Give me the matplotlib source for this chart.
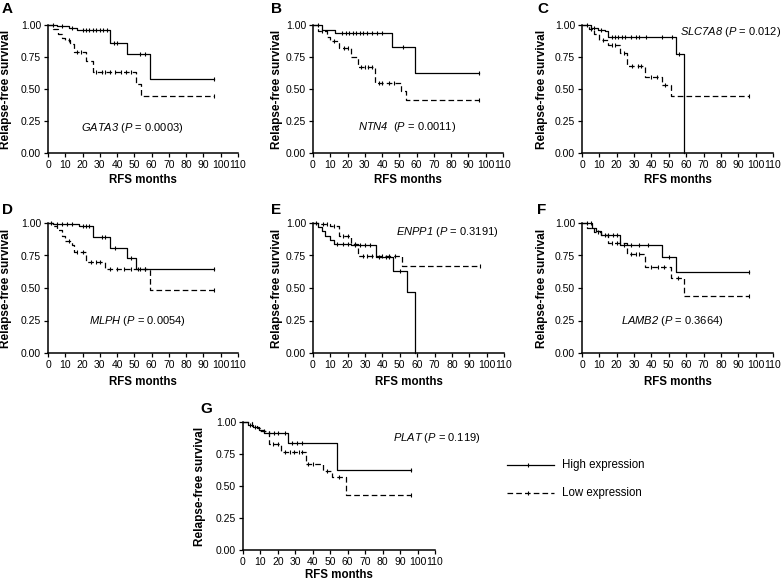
import matplotlib
matplotlib.use('Agg')
import matplotlib.pyplot as plt
import numpy as np

plt.rcParams['font.family'] = ['Liberation Sans', 'DejaVu Sans']
plt.rcParams['mathtext.fontset'] = 'custom'
# upright math font set to italic so gene names (with digits) are fully italic
plt.rcParams['mathtext.rm'] = 'Liberation Sans:italic'
plt.rcParams['mathtext.it'] = 'Liberation Sans:italic'

MONTH_TICKS = list(range(0, 111, 10))
SURV_TICKS = [0.0, 0.25, 0.50, 0.75, 1.00]
LEGEND_LABELS = ["High expression", "Low expression"]

# ---- Panel A: GATA3 ----
A_high_t = [0, 5, 12, 17, 36, 46, 59]
A_high_s = [1.0, 0.99, 0.975, 0.962, 0.857, 0.771, 0.577]
A_high_c = [3, 8, 14, 20, 22, 24, 26, 28, 30, 32, 34, 38, 40, 53, 56, 96]
A_low_t = [0, 3, 6, 8, 10, 13, 15, 22, 26, 51, 54]
A_low_s = [1.0, 0.97, 0.93, 0.90, 0.88, 0.85, 0.79, 0.72, 0.631, 0.54, 0.447]
A_low_c = [12, 17, 19, 28, 31, 33, 36, 39, 42, 45, 48, 96]

# ---- Panel B: NTN4 ----
B_high_t = [0, 5, 13, 46, 59]
B_high_s = [1.0, 0.961, 0.937, 0.829, 0.623]
B_high_c = [3, 17, 19, 21, 23, 25, 27, 29, 31, 34, 37, 40, 52, 96]
B_low_t = [0, 3, 8, 10, 15, 22, 26, 36, 51, 54]
B_low_s = [1.0, 0.953, 0.91, 0.878, 0.818, 0.748, 0.67, 0.55, 0.488, 0.415]
B_low_c = [5, 12, 18, 20, 28, 30, 32, 34, 38, 40, 44, 47, 96]

# ---- Panel C: SLC7A8 ----
C_high_t = [0, 5, 9, 13, 15, 54, 59]
C_high_s = [1.0, 0.98, 0.96, 0.95, 0.906, 0.777, 0.0]
C_high_c = [3, 7, 11, 17, 19, 21, 23, 25, 28, 31, 33, 37, 46, 52, 56]
C_low_t = [0, 4, 7, 10, 15, 22, 26, 36, 46, 51]
C_low_s = [1.0, 0.97, 0.93, 0.88, 0.844, 0.78, 0.683, 0.592, 0.532, 0.449]
C_low_c = [5, 12, 17, 19, 24, 29, 32, 34, 40, 43, 48, 96]

# ---- Panel D: MLPH ----
D_high_t = [0, 3, 18, 26, 36, 46, 51]
D_high_s = [1.0, 0.99, 0.975, 0.894, 0.807, 0.73, 0.65]
D_high_c = [2, 5, 8, 11, 14, 20, 22, 24, 31, 33, 39, 48, 53, 56, 96]
D_low_t = [0, 3, 5, 8, 10, 14, 15, 22, 33, 59]
D_low_s = [1.0, 0.98, 0.95, 0.90, 0.86, 0.83, 0.776, 0.703, 0.644, 0.485]
D_low_c = [12, 17, 20, 25, 28, 30, 36, 40, 44, 48, 52, 56, 96]

# ---- Panel E: ENPP1 ----
E_high_t = [0, 3, 5, 7, 10, 12, 22, 36, 46, 54, 59]
E_high_s = [1.0, 0.97, 0.94, 0.90, 0.87, 0.84, 0.83, 0.735, 0.63, 0.47, 0.0]
E_high_c = [14, 17, 20, 24, 27, 30, 33, 38, 42, 44, 50]
E_low_t = [0, 4, 10, 15, 22, 26, 51]
E_low_s = [1.0, 0.99, 0.975, 0.90, 0.84, 0.745, 0.67]
E_low_c = [2, 6, 8, 12, 17, 20, 24, 29, 31, 34, 40, 44, 47, 96]

# ---- Panel F: LAMB2 ----
F_high_t = [0, 6, 8, 11, 22, 46, 54]
F_high_s = [1.0, 0.96, 0.94, 0.905, 0.83, 0.737, 0.62]
F_high_c = [3, 5, 13, 15, 18, 20, 24, 28, 33, 38, 50, 96]
F_low_t = [0, 3, 7, 11, 15, 26, 36, 51, 59]
F_low_s = [1.0, 0.96, 0.93, 0.905, 0.85, 0.763, 0.66, 0.575, 0.435]
F_low_c = [9, 17, 20, 22, 28, 31, 33, 40, 44, 47, 55, 96]

# ---- Panel G: PLAT ----
G_high_t = [0, 3, 6, 9, 12, 26, 54]
G_high_s = [1.0, 0.98, 0.96, 0.94, 0.917, 0.836, 0.628]
G_high_c = [4, 7, 15, 18, 20, 24, 28, 31, 34, 96]
G_low_t = [0, 5, 8, 10, 15, 22, 36, 46, 51, 59]
G_low_s = [1.0, 0.97, 0.95, 0.93, 0.83, 0.766, 0.673, 0.618, 0.571, 0.428]
G_low_c = [12, 17, 20, 24, 27, 29, 32, 34, 37, 40, 48, 55, 96]

GENES = ["GATA3", "NTN4", "SLC7A8", "MLPH", "ENPP1", "LAMB2", "PLAT"]
P_VALUES = ["0.0003", "0.0011", "0.012", "0.0054", "0.3191", "0.3664", "0.119"]
LETTERS = ["A", "B", "C", "D", "E", "F", "G"]

panels = [
    (A_high_t, A_high_s, A_high_c, A_low_t, A_low_s, A_low_c),
    (B_high_t, B_high_s, B_high_c, B_low_t, B_low_s, B_low_c),
    (C_high_t, C_high_s, C_high_c, C_low_t, C_low_s, C_low_c),
    (D_high_t, D_high_s, D_high_c, D_low_t, D_low_s, D_low_c),
    (E_high_t, E_high_s, E_high_c, E_low_t, E_low_s, E_low_c),
    (F_high_t, F_high_s, F_high_c, F_low_t, F_low_s, F_low_c),
    (G_high_t, G_high_s, G_high_c, G_low_t, G_low_s, G_low_c),
]

W, H = 783, 580
fig = plt.figure(figsize=(W / 100, H / 100), dpi=100)

# axes boxes in pixels: left, top, right, bottom
boxes = [
    (48, 25, 238, 153), (313, 25, 503, 153), (582, 25, 773, 153),
    (48, 223, 238, 353), (313, 223, 504, 353), (582, 223, 773, 353),
    (243, 422, 435, 550),
]
ylabel_x = [-0.19, -0.158, -0.178, -0.19, -0.158, -0.178, -0.193]
xlabel_pad = [3, 3, 3, 4.5, 4.5, 4.5, 1.2]
letter_pos = [(2, 2), (271, 2), (537, 2), (2, 203), (271, 203), (537, 203), (200, 402)]
# annotation: x (data), y (data), ha
annot = [(19.3, 0.195, 'left'), (26, 0.2, 'left'), (115, 0.948, 'right'),
         (23.6, 0.25, 'left'), (48, 0.93, 'left'), (22.6, 0.247, 'left'),
         (85.7, 0.875, 'left')]
annot_sep = [" ", "  ", " ", " ", " ", " ", " "]

LW = 0.9
DASH = (0, (4.5, 2.5))


def surv_at(t, s, x):
    i = np.searchsorted(np.asarray(t), x, side='right') - 1
    return np.asarray(s)[i]


def draw_curve(ax, t, s, c, ls):
    end = max(t[-1], max(c) if len(c) else 0)
    xs = list(t) + [end]
    ys = list(s) + [s[-1]]
    ax.step(xs, ys, where='post', color='black', lw=LW, linestyle=ls, clip_on=False)
    cy = [surv_at(t, s, x) for x in c]
    ax.plot(c, cy, linestyle='none', marker='|', markersize=3.5, mew=0.8,
            color='black', clip_on=False)


for k, (box, data) in enumerate(zip(boxes, panels)):
    l, tp, r, b = box
    ax = fig.add_axes([l / W, 1 - b / H, (r - l) / W, (b - tp) / H])
    ht, hs, hc, lt, lsv, lc = data
    draw_curve(ax, ht, hs, hc, '-')
    draw_curve(ax, lt, lsv, lc, DASH)
    ax.set_xlim(0, 110)
    ax.set_ylim(0, 1)
    ax.set_xticks(MONTH_TICKS)
    ax.set_xticklabels([str(v) for v in MONTH_TICKS])
    ax.set_yticks(SURV_TICKS)
    ax.set_yticklabels(["%.2f" % v for v in SURV_TICKS])
    for sp in ['top', 'right']:
        ax.spines[sp].set_visible(False)
    for sp in ['left', 'bottom']:
        ax.spines[sp].set_linewidth(1.1)
    ax.tick_params(direction='out', length=3, width=0.9, labelsize=7.5, pad=2,
                   colors='black')
    ax.set_xlabel("RFS months", fontsize=8.3, fontweight='bold', labelpad=xlabel_pad[k])
    ax.set_ylabel("Relapse-free survival", fontsize=8.5, fontweight='bold')
    ax.yaxis.set_label_coords(ylabel_x[k], 0.5)
    ax.patch.set_visible(False)
    label = r"$\mathrm{%s}$%s($\mathrm{P}$ = %s)" % (GENES[k], annot_sep[k], P_VALUES[k])
    ax.text(annot[k][0], annot[k][1], label,
            fontsize=8, ha=annot[k][2], va='center', clip_on=False)
    fig.text(letter_pos[k][0] / W, 1 - letter_pos[k][1] / H, LETTERS[k],
             fontsize=11, fontweight='bold', va='top', ha='left')

# legend in figure coordinates
from matplotlib.lines import Line2D
for i, (lab, ls) in enumerate(zip(LEGEND_LABELS, ['-', DASH])):
    y = 1 - (465 + 28 * i) / H
    fig.add_artist(Line2D([507 / W, 554 / W], [y, y], color='black', lw=LW, linestyle=ls))
    fig.add_artist(Line2D([528 / W], [y], color='black', marker='|', markersize=3.5, mew=0.8))
    fig.text(562 / W, y, lab, fontsize=8.3, va='center', ha='left')

fig.savefig("out.png", dpi=100)
